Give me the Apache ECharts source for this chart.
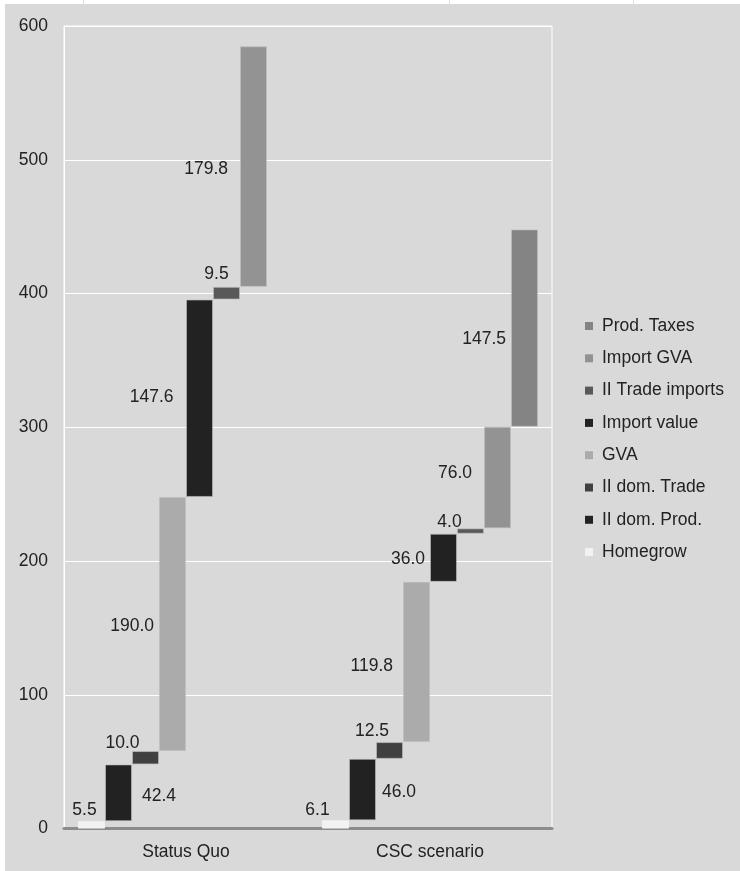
<!DOCTYPE html>
<html>
<head>
<meta charset="utf-8">
<script src="https://cdn.jsdelivr.net/npm/echarts@6/dist/echarts.min.js"></script>
<style>
  html, body { margin: 0; padding: 0; background: #ffffff; }
  #chart { width: 740px; height: 871px; }
</style>
</head>
<body>
<div id="chart"></div>
<script>
// Scenario groups on the category axis
const categories = ['Status Quo', 'CSC scenario'];

// Value-chain components, in the order they are stacked up the waterfall
const componentNames = ['Homegrow', 'II dom. Prod.', 'II dom. Trade', 'GVA',
                        'Import value', 'II Trade imports', 'Import GVA', 'Prod. Taxes'];

// Component values per scenario
const statusQuo   = [5.5, 42.4, 10.0, 190.0, 147.6, 9.5, 179.8, 0];
const cscScenario = [6.1, 46.0, 12.5, 119.8, 36.0, 4.0, 76.0, 147.5];

// Value axis ticks
const yTicks = [0, 100, 200, 300, 400, 500, 600];

// Fill colour of each component
const componentColors = ['#f2f2f2', '#222222', '#404040', '#ababab',
                         '#222222', '#595959', '#939393', '#848484'];

// Where each value label sits relative to its bar: [position, distance, dx, dy]
const labelPlacement = [
  [['top', 5, -7, 3],    ['top', 5, -18, 4]],
  [['right', 10, 0, 3],  ['right', 6, 0, 3]],
  [['top', 5, -23, 6],   ['top', 5, -17.5, 3]],
  [['left', 5, 0, 2.5],  ['left', 10, 0, 4.5]],
  [['left', 12.5, 0, -1],['left', 5, 0, 1.5]],
  [['top', 5, -10, 1.5], ['top', 5, -21, 8]],
  [['left', 12, 0, 2.5], ['left', 12, 0, -4]],
  [['left', 5, 0, 11],   ['left', 5, 0, 11]]
];

const FONT = 'Liberation Sans, Arial, sans-serif';
const scenarios = [statusQuo, cscScenario];

// Running totals: each component floats on top of everything before it
const bases = scenarios.map(vals => {
  const out = [];
  let acc = 0;
  vals.forEach(v => { out.push(acc); acc += v; });
  return out;
});

const series = [];
componentNames.forEach((name, i) => {
  const stackId = 'step' + i;
  series.push({
    type: 'bar',
    stack: stackId,
    barWidth: 27,
    barGap: '0%',
    silent: true,
    itemStyle: { color: 'transparent' },
    emphasis: { disabled: true },
    data: scenarios.map((vals, c) => vals[i] === 0 ? '-' : bases[c][i])
  });
  series.push({
    name: name,
    type: 'bar',
    stack: stackId,
    barWidth: 27,
    barGap: '0%',
    itemStyle: {
      color: componentColors[i],
      borderColor: i === 0 ? componentColors[i] : 'rgba(190,190,190,0.6)',
      borderWidth: 1
    },
    emphasis: { disabled: true },
    data: scenarios.map((vals, c) => {
      if (vals[i] === 0) return '-';
      const p = labelPlacement[i][c];
      return {
        value: vals[i],
        label: {
          show: true,
          position: p[0],
          distance: p[1],
          offset: [p[2], p[3]],
          formatter: d => Number(d.value).toFixed(1),
          color: '#222222',
          fontFamily: FONT,
          fontSize: 17.5
        }
      };
    })
  });
});

const chart = echarts.init(document.getElementById('chart'), null, { renderer: 'canvas' });
chart.setOption({
  animation: false,
  backgroundColor: 'transparent',
  textStyle: { fontFamily: FONT },
  graphic: [
    { type: 'rect', z: -10, silent: true,
      shape: { x: 5, y: 4, width: 735, height: 867 },
      style: { fill: '#d9d9d9' } },
    { type: 'line', silent: true, shape: { x1: 83.5, y1: 0, x2: 83.5, y2: 4 },
      style: { stroke: '#e0e0e0', lineWidth: 1 } },
    { type: 'line', silent: true, shape: { x1: 449.5, y1: 0, x2: 449.5, y2: 4 },
      style: { stroke: '#e0e0e0', lineWidth: 1 } },
    { type: 'line', silent: true, shape: { x1: 633.5, y1: 0, x2: 633.5, y2: 4 },
      style: { stroke: '#e0e0e0', lineWidth: 1 } }
  ],
  grid: {
    left: 64, right: 188, top: 26, bottom: 42.5,
    show: true, borderColor: '#ffffff', borderWidth: 1,
    backgroundColor: 'transparent'
  },
  legend: {
    orient: 'vertical',
    left: 580,
    top: 312,
    itemWidth: 8,
    itemHeight: 8,
    itemGap: 14.3,
    icon: 'rect',
    itemStyle: { borderWidth: 0 },
    data: componentNames.slice().reverse(),
    textStyle: {
      fontFamily: FONT, fontSize: 17.5, color: '#222222',
      lineHeight: 18, padding: [0, 0, 0, 4]
    }
  },
  xAxis: {
    type: 'category',
    data: categories,
    axisLine: { show: true, lineStyle: { color: '#8c8c8c', width: 3 } },
    axisTick: { show: false },
    axisLabel: { fontFamily: FONT, fontSize: 17.5, color: '#222222', margin: 15 },
    splitLine: { show: false }
  },
  yAxis: {
    type: 'value',
    min: yTicks[0],
    max: yTicks[yTicks.length - 1],
    interval: yTicks[1] - yTicks[0],
    axisLine: { show: true, lineStyle: { color: '#ffffff', width: 1 } },
    axisTick: { show: false },
    axisLabel: { fontFamily: FONT, fontSize: 17.5, color: '#222222', margin: 16 },
    splitLine: { show: true, lineStyle: { color: '#ffffff', width: 1 } }
  },
  series: series
});
</script>
</body>
</html>
